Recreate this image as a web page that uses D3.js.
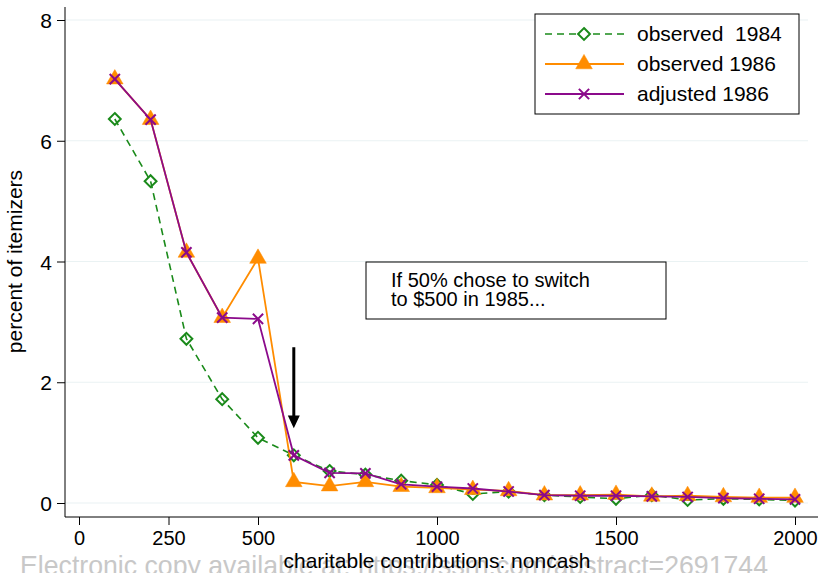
<!DOCTYPE html>
<html>
<head>
<meta charset="utf-8">
<script src="https://cdn.jsdelivr.net/npm/d3@7"></script>
<style>
  body { margin: 0; background: #fff; }
  svg { font-family: "Liberation Sans", Arial, sans-serif; }
</style>
</head>
<body>
<div id="container"></div>
<script>
const amounts  = [100,200,300,400,500,600,700,800,900,1000,1100,1200,1300,1400,1500,1600,1700,1800,1900,2000];
const obs1984  = [6.36,5.33,2.72,1.72,1.08,0.79,0.53,0.47,0.37,0.30,0.15,0.19,0.13,0.10,0.07,0.13,0.05,0.07,0.06,0.04];
const obs1986  = [7.02,6.35,4.15,3.07,4.05,0.35,0.28,0.35,0.27,0.25,0.22,0.20,0.13,0.13,0.14,0.11,0.12,0.10,0.09,0.09];
const adj1986  = [7.02,6.35,4.15,3.07,3.05,0.79,0.50,0.49,0.31,0.27,0.24,0.19,0.13,0.12,0.12,0.11,0.10,0.08,0.07,0.06];
const xTicks   = [0,250,500,1000,1500,2000];
const yTicks   = [0,2,4,6,8];
const seriesNames = ["observed  1984","observed 1986","adjusted 1986"];

const width = 820, height = 573;
const margin = { top: 7, right: 2, bottom: 56, left: 65 };
const font = "Liberation Sans, Arial, sans-serif";

const svg = d3.select("#container").append("svg")
  .attr("width", width).attr("height", height);

const x = d3.scaleLinear().domain([0, 2000]).range([79, 795]);
const y = d3.scaleLinear().domain([0, 8]).range([503, 20]);

// gridlines
svg.append("g").selectAll("line").data(yTicks).join("line")
  .attr("x1", margin.left).attr("x2", 808)
  .attr("y1", d => y(d)).attr("y2", d => y(d))
  .attr("stroke", "#eaf2f3").attr("stroke-width", 1.2);

// axes
const yAxis = svg.append("g")
  .attr("transform", `translate(${margin.left},0)`)
  .call(d3.axisLeft(y).tickValues(yTicks).tickSize(8).tickPadding(5));
yAxis.select(".domain").attr("d", `M0,7V517`);
yAxis.selectAll("text").attr("font-size", 21).attr("font-family", font).attr("fill", "#000").attr("dy", "0.36em");

const xAxis = svg.append("g")
  .attr("transform", `translate(0,517)`)
  .call(d3.axisBottom(x).tickValues(xTicks).tickFormat(d3.format("d")).tickSize(8).tickPadding(6));
xAxis.select(".domain").attr("d", `M${margin.left},0H818`);
xAxis.selectAll("text").attr("font-size", 20).attr("font-family", font).attr("fill", "#000");

// y title
svg.append("text")
  .attr("transform", `translate(22,${y(4)}) rotate(-90)`)
  .attr("text-anchor", "middle")
  .attr("font-size", 21)
  .text("percent of itemizers");

// watermark
svg.append("text")
  .attr("x", 20).attr("y", 575)
  .attr("font-size", 28)
  .attr("fill", "#c8c8c8")
  .attr("textLength", 748)
  .attr("lengthAdjust", "spacingAndGlyphs")
  .text("Electronic copy available at: https://ssrn.com/abstract=2691744");

// x title
svg.append("text")
  .attr("x", 437).attr("y", 568)
  .attr("text-anchor", "middle")
  .attr("font-size", 21)
  .text("charitable contributions: noncash");

const line = d3.line().x(d => x(d[0])).y(d => y(d[1]));
const series = [
  { name: seriesNames[0], values: obs1984, color: "#1a8a1a", dash: "7,5", width: 1.6, sym: d3.symbolDiamond2, size: 90, filled: false },
  { name: seriesNames[1], values: obs1986, color: "#ff8c00", dash: null, width: 1.8, sym: d3.symbolTriangle, size: 120, filled: true },
  { name: seriesNames[2], values: adj1986, color: "#8b0a8b", dash: null, width: 1.8, sym: d3.symbolX, size: 70, filled: false }
];

series.forEach(s => {
  const pts = amounts.map((a, i) => [a, s.values[i]]);
  svg.append("path")
    .attr("d", line(pts))
    .attr("fill", "none")
    .attr("stroke", s.color)
    .attr("stroke-width", s.width)
    .attr("stroke-dasharray", s.dash);
  svg.append("g").selectAll("path").data(pts).join("path")
    .attr("transform", d => `translate(${x(d[0])},${y(d[1])})`)
    .attr("d", d3.symbol(s.sym, s.size))
    .attr("fill", s.filled ? s.color : "none")
    .attr("stroke", s.color)
    .attr("stroke-width", s.filled ? 0.5 : 2);
});

// arrow pointing at the 600 point
svg.append("line")
  .attr("x1", x(600)).attr("x2", x(600))
  .attr("y1", y(2.58)).attr("y2", y(1.4))
  .attr("stroke", "#000").attr("stroke-width", 3);
svg.append("path")
  .attr("d", `M${x(600) - 6},${y(1.45)}L${x(600) + 6},${y(1.45)}L${x(600)},${y(1.24)}Z`)
  .attr("fill", "#000");

// annotation box
svg.append("rect")
  .attr("x", 366).attr("y", 262).attr("width", 300).attr("height", 57)
  .attr("fill", "#fff").attr("stroke", "#000").attr("stroke-width", 1);
svg.append("text").attr("x", 391).attr("y", 287).attr("font-size", 20).text("If 50% chose to switch");
svg.append("text").attr("x", 391).attr("y", 306).attr("font-size", 20).text("to $500 in 1985...");

// legend
const lg = svg.append("g");
lg.append("rect")
  .attr("x", 535).attr("y", 14).attr("width", 264).attr("height", 100)
  .attr("fill", "#fff").attr("stroke", "#000").attr("stroke-width", 1);
series.forEach((s, i) => {
  const ly = 34 + i * 30;
  lg.append("line")
    .attr("x1", 545).attr("x2", 624).attr("y1", ly).attr("y2", ly)
    .attr("stroke", s.color).attr("stroke-width", s.width)
    .attr("stroke-dasharray", s.dash);
  lg.append("path")
    .attr("transform", `translate(584,${ly})`)
    .attr("d", d3.symbol(s.sym, s.size))
    .attr("fill", s.filled ? s.color : "#fff")
    .attr("stroke", s.color)
    .attr("stroke-width", s.filled ? 0.5 : 2);
  lg.append("text")
    .attr("x", 637).attr("y", ly + 7)
    .attr("font-size", 21)
    .attr("xml:space", "preserve")
    .style("white-space", "pre")
    .text(s.name);
});
</script>
</body>
</html>
